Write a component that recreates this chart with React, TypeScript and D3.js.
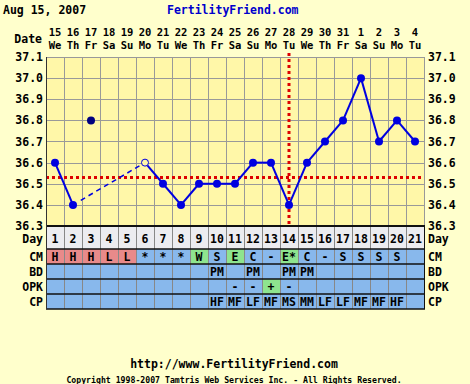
import React, { useEffect, useRef } from "react";
import * as d3 from "d3";

const dateLabels = ["15","16","17","18","19","20","21","22","23","24","25","26","27","28","29","30","31","1","2","3","4"];
const weekdays = ["We","Th","Fr","Sa","Su","Mo","Tu","We","Th","Fr","Sa","Su","Mo","Tu","We","Th","Fr","Sa","Su","Mo","Tu"];
const cycleDays = d3.range(1, 22);
// temperatures per cycle day (null = no reading)
const temps: (number | null)[] = [36.6, 36.4, null, null, null, 36.6, 36.5, 36.4, 36.5, 36.5, 36.5, 36.6, 36.6, 36.4, 36.6, 36.7, 36.8, 37.0, 36.7, 36.8, 36.7];
const discarded = [{ day: 3, temp: 36.8 }];
const openDays = [6];
const yTicks = [37.1, 37.0, 36.9, 36.8, 36.7, 36.6, 36.5, 36.4, 36.3];
const coverline = 36.53;
const ovulationDay = 14;
const cmValues = ["H","H","H","L","L","*","*","*","W","S","E","C","-","E*","C","-","S","S","S","S",""];
const bdValues = ["","","","","","","","","","PM","","PM","","PM","PM","","","","","",""];
const opkValues = ["","","","","","","","","","","-","-","+","-","","","","","","",""];
const cpValues = ["","","","","","","","","","HF","MF","LF","MF","MS","MM","LF","LF","MF","MF","HF",""];
const rowLabels = ["CM", "BD", "OPK", "CP"];

const FONT = "'DejaVu Sans Mono', monospace";

export default function App() {
  const ref = useRef<SVGSVGElement>(null);
  useEffect(() => {
    const svg = d3.select(ref.current);
    svg.selectAll("*").remove();
    const W = 470, H = 384;
    const left = 46, right = 424, top = 57, bottom = 226;
    const x = d3.scaleBand<number>().domain(cycleDays).range([left, right]);
    const cx = (d: number) => (x(d) as number) + x.bandwidth() / 2;
    const y = d3.scaleLinear().domain([36.3, 37.1]).range([bottom, top]);

    svg.append("rect").attr("width", W).attr("height", H).attr("fill", "#ffffcc");
    svg.append("rect").attr("x", left).attr("y", top).attr("width", right - left).attr("height", bottom - top).attr("fill", "#fff7a8");

    const txt = (g: any, s: string, px: number, py: number, anchor = "start", size = 11, color = "#000") =>
      g.append("text").attr("x", px).attr("y", py).attr("text-anchor", anchor)
        .attr("font-family", FONT).attr("font-weight", "bold").attr("font-size", size)
        .attr("fill", color).text(s);

    // header
    txt(svg, "Aug 15, 2007", 3, 14, "start", 11.5);
    txt(svg, "FertilityFriend.com", 167, 14, "start", 11.5, "#0000cc");
    txt(svg, "Date", 42, 43, "end", 11.5);
    cycleDays.forEach((d, i) => {
      txt(svg, dateLabels[i], cx(d), 36, "middle", 10.5);
      txt(svg, weekdays[i], cx(d), 48.5, "middle", 10.5);
    });

    // grid
    const grid = svg.append("g").attr("stroke", "#999").attr("stroke-width", 1);
    yTicks.forEach((t) => {
      grid.append("line").attr("x1", left).attr("x2", right).attr("y1", Math.round(y(t)) + 0.5).attr("y2", Math.round(y(t)) + 0.5);
    });
    cycleDays.forEach((d) => {
      const xx = Math.round(x(d) as number) + 0.5;
      grid.append("line").attr("x1", xx).attr("x2", xx).attr("y1", top).attr("y2", bottom);
    });
    grid.append("line").attr("x1", right + 0.5).attr("x2", right + 0.5).attr("y1", top).attr("y2", bottom);

    // axis labels
    yTicks.forEach((t) => {
      txt(svg, t.toFixed(1), 43, y(t) + 4, "end", 11.5);
      txt(svg, t.toFixed(1), 428, y(t) + 4, "start", 11.5);
    });

    // coverline and ovulation line
    svg.append("line").attr("x1", left).attr("x2", right).attr("y1", y(coverline)).attr("y2", y(coverline))
      .attr("stroke", "#dd0000").attr("stroke-width", 3).attr("stroke-dasharray", "3 3");
    svg.append("line").attr("x1", cx(ovulationDay)).attr("x2", cx(ovulationDay)).attr("y1", 53).attr("y2", 228)
      .attr("stroke", "#dd0000").attr("stroke-width", 3).attr("stroke-dasharray", "3 3");

    // table
    const rowTop = bottom, dayRowH = 23, rowH = 15;
    svg.append("rect").attr("x", left).attr("y", rowTop).attr("width", right - left).attr("height", dayRowH).attr("fill", "#ececf0");
    txt(svg, "Day", 43, rowTop + 17, "end", 11.5);
    txt(svg, "Day", 428, rowTop + 17, "start", 11.5);
    cycleDays.forEach((d) => txt(svg, String(d), cx(d), rowTop + 17, "middle", 11.5));
    const rows = [cmValues, bdValues, opkValues, cpValues];
    const cellColor = (r: number, v: string) => {
      if (r === 0 && (v === "H" || v === "L")) return "#e88a8a";
      if (r === 0 && (v === "W" || v === "E" || v === "E*")) return "#8ee48e";
      if (r === 2 && v === "+") return "#8ee48e";
      return "#88b8ec";
    };
    rows.forEach((vals, r) => {
      const ry = rowTop + dayRowH + r * rowH;
      cycleDays.forEach((d, i) => {
        svg.append("rect").attr("x", x(d) as number).attr("y", ry).attr("width", x.bandwidth()).attr("height", rowH)
          .attr("fill", cellColor(r, vals[i]));
        if (vals[i]) txt(svg, vals[i], cx(d), ry + 12, "middle", 11.5);
      });
      txt(svg, rowLabels[r], 43, ry + 12, "end", 11.5);
      txt(svg, rowLabels[r], 428, ry + 12, "start", 11.5);
    });
    const tableBottom = rowTop + dayRowH + rows.length * rowH;
    const tg = svg.append("g").attr("stroke", "#888").attr("stroke-width", 1);
    cycleDays.forEach((d) => {
      const xx = Math.round(x(d) as number) + 0.5;
      tg.append("line").attr("x1", xx).attr("x2", xx).attr("y1", rowTop).attr("y2", tableBottom);
    });
    const hg = svg.append("g").attr("stroke", "#111").attr("stroke-width", 1.5);
    [rowTop + dayRowH, ...rows.map((_, r) => rowTop + dayRowH + (r + 1) * rowH)].forEach((yy) => {
      hg.append("line").attr("x1", left).attr("x2", right + 1).attr("y1", yy).attr("y2", yy);
    });
    hg.append("line").attr("x1", left).attr("x2", right + 1).attr("y1", bottom).attr("y2", bottom).attr("stroke-width", 2);
    hg.append("line").attr("x1", left + 0.5).attr("x2", left + 0.5).attr("y1", top).attr("y2", tableBottom).attr("stroke", "#333").attr("stroke-width", 1);
    hg.append("line").attr("x1", right + 0.5).attr("x2", right + 0.5).attr("y1", rowTop).attr("y2", tableBottom).attr("stroke-width", 1);

    // temperature line
    const pts = cycleDays.map((d, i) => ({ day: d, temp: temps[i] })).filter((p) => p.temp !== null) as { day: number; temp: number }[];
    const blue = "#0000e0";
    for (let i = 1; i < pts.length; i++) {
      const a = pts[i - 1], b = pts[i];
      const consecutive = b.day - a.day === 1;
      const x1 = cx(a.day), y1 = y(a.temp), x2 = cx(b.day), y2 = y(b.temp);
      if (consecutive) {
        svg.append("line").attr("x1", x1).attr("y1", y1).attr("x2", x2).attr("y2", y2)
          .attr("stroke", blue).attr("stroke-width", 2);
      } else {
        const len = Math.hypot(x2 - x1, y2 - y1);
        const ux = (x2 - x1) / len, uy = (y2 - y1) / len;
        svg.append("line").attr("x1", x1 + ux * 9).attr("y1", y1 + uy * 9).attr("x2", x2 - ux * 4).attr("y2", y2 - uy * 4)
          .attr("stroke", blue).attr("stroke-width", 1.5).attr("stroke-dasharray", "5 4");
      }
    }
    pts.forEach((p) => {
      const open = openDays.includes(p.day);
      svg.append("circle").attr("cx", cx(p.day)).attr("cy", y(p.temp)).attr("r", open ? 3.5 : 4)
        .attr("fill", open ? "#fff7a8" : blue).attr("stroke", blue).attr("stroke-width", open ? 1 : 0);
    });
    discarded.forEach((p) => {
      svg.append("circle").attr("cx", cx(p.day)).attr("cy", y(p.temp)).attr("r", 4).attr("fill", "#000080");
    });

    // footer
    txt(svg, "http://www.FertilityFriend.com", 234, 368, "middle", 11.5);
    txt(svg, "Copyright 1998-2007 Tamtris Web Services Inc. - All Rights Reserved.", 234, 383, "middle", 8.2);
  }, []);
  return <svg ref={ref} width={470} height={384} style={{ position: "absolute", left: 0, top: 0 }} />;
}
